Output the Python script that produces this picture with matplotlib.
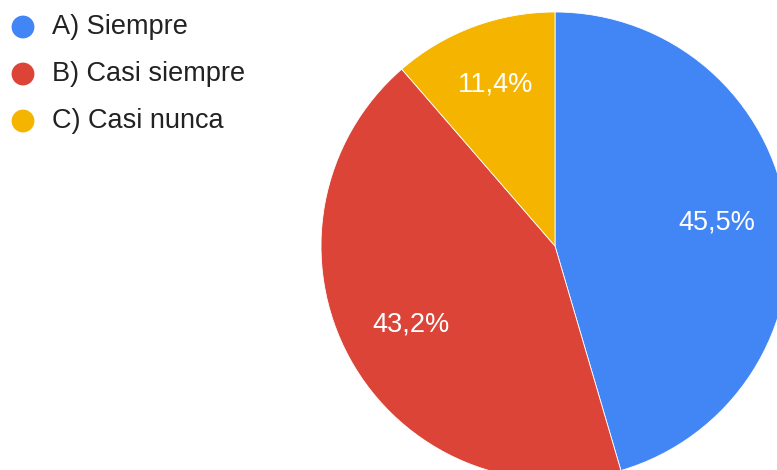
import matplotlib.pyplot as plt

# survey answers (counts out of 44 responses)
labels = ['A) Siempre', 'B) Casi siempre', 'C) Casi nunca']
counts = [20, 19, 5]
colors = ['#4285F4', '#DB4437', '#F4B400']

plt.rcParams['font.family'] = ['Liberation Sans', 'DejaVu Sans']

W, H = 777, 470
fig = plt.figure(figsize=(W / 100, H / 100), dpi=100)
ax = fig.add_axes([0, 0, 1, 1])

# pixel-like coordinates, origin bottom-left
cx, cy, r = 555, H - 246, 234

wedges, texts, autotexts = ax.pie(
    counts, colors=colors, startangle=90, counterclock=False,
    center=(cx, cy), radius=r,
    autopct=lambda p: f'{p:.1f}%'.replace('.', ','),
    pctdistance=0.70,
    wedgeprops=dict(edgecolor='white', linewidth=0.6),
    textprops=dict(color='white', fontsize=19.5),
)
# the small slice's label sits a bit further out
x, y = autotexts[2].get_position()
autotexts[2].set_position((cx + (x - cx) * 1.03, cy + (y - cy) * 1.05))

ax.set_xlim(0, W)
ax.set_ylim(0, H)
ax.set_aspect('equal')
ax.axis('off')

# legend top-left
for i, (lab, col) in enumerate(zip(labels, colors)):
    y = H - (27 + i * 47)
    ax.scatter([23], [y], s=270, color=col, edgecolors='none', zorder=3)
    ax.text(52, y, lab, fontsize=19.5, color='#222222', va='center', ha='left')

fig.savefig('out.png', dpi=100)
